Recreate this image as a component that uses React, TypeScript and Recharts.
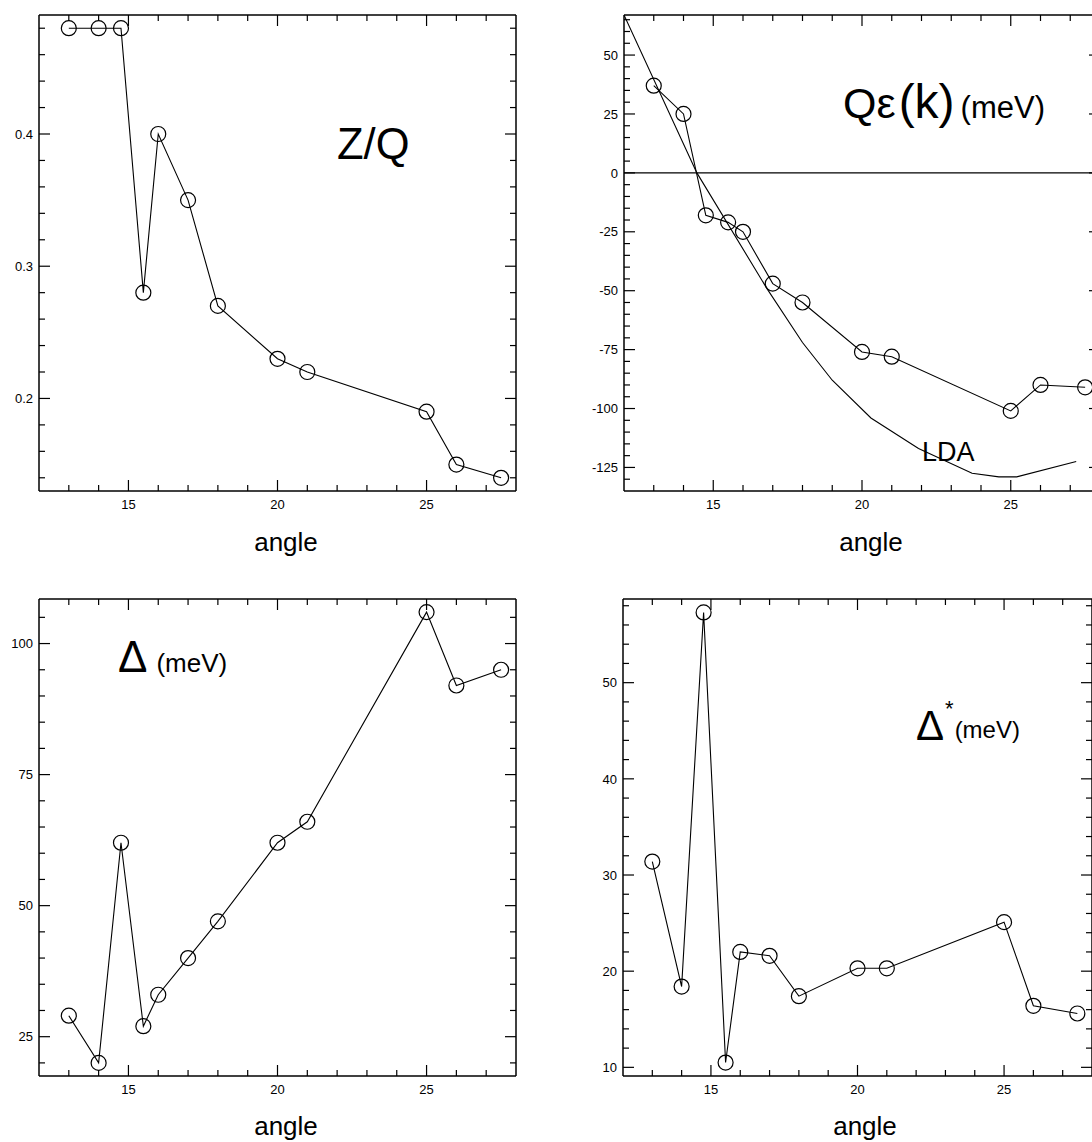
import React from 'react'
import { LineChart, Line, XAxis, YAxis, ReferenceLine } from 'recharts'

// ── data ────────────────────────────────────────────────────────────────────
const ANGLES = [13, 14, 14.75, 15.5, 16, 17, 18, 20, 21, 25, 26, 27.5]
const ZQ = [0.48, 0.48, 0.48, 0.28, 0.4, 0.35, 0.27, 0.23, 0.22, 0.19, 0.15, 0.14]
const QE = [37, 25, -18, -21, -25, -47, -55, -76, -78, -101, -90, -91]
const LDA_ANGLES = [12, 14.45, 16.8, 18, 19, 20.3, 21.9, 23.7, 24.6, 25.2, 27.2]
const LDA_QE = [67, 0, -49, -72, -88, -104, -117, -127.5, -129, -129, -122.5]
const DELTA = [29, 20, 62, 27, 33, 40, 47, 62, 66, 106, 92, 95]
const DELTA_STAR = [31.4, 18.4, 57.3, 10.5, 22, 21.6, 17.4, 20.3, 20.3, 25.1, 16.4, 15.6]

// ── tick labels ─────────────────────────────────────────────────────────────
const ANGLE_LABELS = [15, 20, 25]
const ZQ_LABELS = [0.2, 0.3, 0.4]
const QE_LABELS = [50, 25, 0, -25, -50, -75, -100, -125]
const DELTA_LABELS = [25, 50, 75, 100]
const DSTAR_LABELS = [10, 20, 30, 40, 50]

const range = (a: number, b: number, s: number) => {
  const out: number[] = []
  for (let v = a; v <= b + 1e-9; v += s) out.push(Math.round(v * 1000) / 1000)
  return out
}
const ANGLE_TICKS = range(13, 27, 1)

const FONT = "'Liberation Sans', Arial, Helvetica, sans-serif"
const INK = '#000'
const ML = 50, MR = 14, MT = 12, MB = 30
const MAJOR = 11, MINOR = 6

const near = (list: number[], v: number) => list.some(x => Math.abs(x - v) < 1e-6)
const rows = (xs: number[], ys: number[]) => xs.map((a, i) => ({ a, v: ys[i] }))

type Rect = { l: number; t: number; r: number; b: number }

function Panel({ rect, lines, yDomain, yTicks, yLabels, zero }: {
  rect: Rect
  lines: { data: { a: number; v: number }[]; dots: boolean }[]
  yDomain: [number, number]
  yTicks: number[]
  yLabels: number[]
  zero?: boolean
}) {
  const w = rect.r - rect.l
  const h = rect.b - rect.t
  const x0 = ML, x1 = ML + w, y0 = MT, y1 = MT + h
  const axisLine = { stroke: INK, strokeWidth: 1.5 }
  const txt = { fontFamily: FONT, fontSize: 13, fill: INK }

  // bottom ticks also draw the matching tick on the top frame
  const xTick = (p: any) => {
    const v = p.payload.value
    const major = near(ANGLE_LABELS, v)
    const len = major ? MAJOR : MINOR
    return (
      <g>
        <line x1={p.x} x2={p.x} y1={y1} y2={y1 - len} stroke={INK} strokeWidth={1.2} />
        <line x1={p.x} x2={p.x} y1={y0} y2={y0 + len} stroke={INK} strokeWidth={1.2} />
        {major && <text x={p.x} y={y1 + 18} textAnchor="middle" {...txt}>{v}</text>}
      </g>
    )
  }
  // left ticks also draw the matching tick on the right frame
  const yTick = (p: any) => {
    const v = p.payload.value
    const major = near(yLabels, v)
    const len = major ? MAJOR : MINOR
    return (
      <g>
        <line x1={x0} x2={x0 + len} y1={p.y} y2={p.y} stroke={INK} strokeWidth={1.2} />
        <line x1={x1} x2={x1 - len} y1={p.y} y2={p.y} stroke={INK} strokeWidth={1.2} />
        {major && <text x={x0 - 6} y={p.y} dy="0.36em" textAnchor="end" {...txt}>{v}</text>}
      </g>
    )
  }

  return (
    <div style={{ position: 'absolute', left: rect.l - ML, top: rect.t - MT }}>
      <LineChart
        width={ML + w + MR}
        height={MT + h + MB}
        margin={{ top: MT, right: MR, bottom: 0, left: 0 }}
      >
        <XAxis dataKey="a" type="number" domain={[12, 28]} ticks={ANGLE_TICKS} allowDataOverflow interval={0}
          height={MB} tickSize={0} tickMargin={0} tickLine={false} axisLine={axisLine} tick={xTick} />
        <YAxis type="number" domain={yDomain} ticks={yTicks} allowDataOverflow interval={0}
          width={ML} tickSize={0} tickMargin={0} tickLine={false} axisLine={axisLine} tick={yTick} />
        <ReferenceLine y={yDomain[1]} stroke={INK} strokeWidth={1.5} />
        <ReferenceLine x={28} stroke={INK} strokeWidth={1.5} />
        {zero && <ReferenceLine y={0} stroke={INK} strokeWidth={1.3} />}
        {lines.map((ln, i) => (
          <Line
            key={i}
            data={ln.data}
            dataKey="v"
            type="linear"
            stroke={INK}
            strokeWidth={1.1}
            dot={ln.dots ? { r: 7.5, stroke: INK, strokeWidth: 1.2, fill: 'none' } : false}
            activeDot={false}
            isAnimationActive={false}
          />
        ))}
      </LineChart>
    </div>
  )
}

export default function App() {
  const label = { fontFamily: FONT, fill: INK }
  return (
    <div style={{
      position: 'absolute', left: 0, top: 0, width: 1092, height: 1142,
      overflow: 'hidden', background: '#fff',
    }}>
      <Panel
        rect={{ l: 39, t: 15, r: 516, b: 491 }}
        lines={[{ data: rows(ANGLES, ZQ), dots: true }]}
        yDomain={[0.13, 0.49]}
        yTicks={range(0.14, 0.48, 0.02)}
        yLabels={ZQ_LABELS}
      />
      <Panel
        rect={{ l: 624, t: 15, r: 1100, b: 491 }}
        lines={[
          { data: rows(LDA_ANGLES, LDA_QE), dots: false },
          { data: rows(ANGLES, QE), dots: true },
        ]}
        yDomain={[-135, 67]}
        yTicks={range(-130, 65, 5)}
        yLabels={QE_LABELS}
        zero
      />
      <Panel
        rect={{ l: 39, t: 599, r: 516, b: 1076 }}
        lines={[{ data: rows(ANGLES, DELTA), dots: true }]}
        yDomain={[17.5, 108.5]}
        yTicks={range(20, 105, 5)}
        yLabels={DELTA_LABELS}
      />
      <Panel
        rect={{ l: 623, t: 599, r: 1092, b: 1076 }}
        lines={[{ data: rows(ANGLES, DELTA_STAR), dots: true }]}
        yDomain={[9.1, 58.7]}
        yTicks={range(10, 58, 2)}
        yLabels={DSTAR_LABELS}
      />

      <svg width={1092} height={1142} style={{ position: 'absolute', left: 0, top: 0, pointerEvents: 'none' }}>
        <text x={337} y={159} fontSize={43.5} {...label}>Z/Q</text>
        <text x={843} y={118} {...label}>
          <tspan fontSize={43}>Qε</tspan>
          <tspan fontSize={48} dx={3}>(k)</tspan>
          <tspan fontSize={31} dx={6}>(meV)</tspan>
        </text>
        <text x={922} y={461} fontSize={27} {...label}>LDA</text>
        <text x={118} y={672} {...label}>
          <tspan fontSize={44}>Δ</tspan>
          <tspan fontSize={26} dx={9}>(meV)</tspan>
        </text>
        <text x={916} y={740} {...label}>
          <tspan fontSize={42}>Δ</tspan>
          <tspan fontSize={22} dx={1} dy={-24}>*</tspan>
          <tspan fontSize={24} dy={22} dx={1}>(meV)</tspan>
        </text>

        <text x={286} y={551} textAnchor="middle" fontSize={26} {...label}>angle</text>
        <text x={871} y={551} textAnchor="middle" fontSize={26} {...label}>angle</text>
        <text x={286} y={1135} textAnchor="middle" fontSize={26} {...label}>angle</text>
        <text x={865} y={1135} textAnchor="middle" fontSize={26} {...label}>angle</text>
      </svg>
    </div>
  )
}
